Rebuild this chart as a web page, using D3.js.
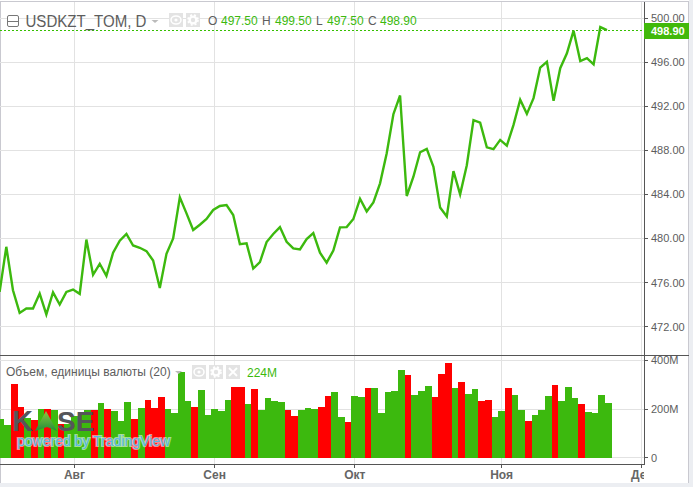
<!DOCTYPE html>
<html>
<head>
<meta charset="utf-8">
<script src="https://cdn.jsdelivr.net/npm/d3@7"></script>
<style>
  html, body { margin: 0; padding: 0; background: #fff; }
  svg { display: block; font-family: "Liberation Sans", Arial, sans-serif; }
</style>
</head>
<body>
<div id="chart"></div>
<script>
/* DATA */
const closes = [
  475.15, 479.24, 475.3, 473.24, 473.64, 473.64, 475.0, 473.1, 475.1, 474.0,
  475.15, 475.36, 474.97, 479.9, 476.7, 477.7, 476.6, 478.7, 479.8, 480.4,
  479.36, 479.15, 478.85, 478.0, 475.5, 478.6, 480.0, 483.73, 482.27, 480.76,
  481.24, 481.76, 482.58, 482.94, 483.03, 482.12, 479.48, 479.55, 477.27, 477.85,
  479.67, 480.4, 481.03, 479.7, 479.09, 479.0, 479.94, 480.48, 478.7, 477.8,
  478.9, 481.0, 481.03, 481.76, 483.6, 482.45, 483.27, 485.0, 487.73, 491.27,
  492.97, 483.85, 485.6, 487.82, 488.12, 486.5, 482.8, 482.0, 486.1, 484.0,
  486.64, 490.73, 490.5, 488.27, 488.1, 488.94, 488.42, 490.3, 492.58, 491.3,
  492.73, 495.5, 496.03, 492.48, 495.45, 496.8, 498.85, 496.1, 496.36, 495.8,
  499.18, 498.9
];
// volume in millions
const volumes = [
  160, 136, 304, 210, 163, 156, 201, 201, 197, 140,
  140, 170, 184, 197, 197, 226, 201, 193, 152, 230,
  160, 205, 238, 205, 251, 201, 185, 353, 234, 210,
  279, 177, 201, 193, 238, 292, 292, 222, 284, 197,
  247, 234, 230, 197, 173, 197, 205, 201, 210, 255,
  271, 168, 148, 255, 251, 288, 288, 185, 271, 275,
  362, 341, 259, 275, 296, 251, 345, 390, 288, 312,
  263, 284, 234, 238, 168, 193, 288, 259, 197, 152,
  177, 197, 255, 300, 234, 292, 247, 222, 189, 185,
  259, 226
];
const downBars = [2, 3, 5, 7, 9, 14, 16, 20, 22, 23, 24, 29, 35, 36, 38, 43, 44, 48, 49, 52, 55, 61, 65, 66, 67, 69, 72, 73, 76, 79, 83, 87];
const monthLabels = ["Авг", "Сен", "Окт", "Ноя", "Дек"];
const monthIndex = [11, 32, 53, 75, 96];
const priceTicks = [472, 476, 480, 484, 488, 492, 496, 500];
const volumeTicks = [0, 200, 400];
const ohlc = [["O", "497.50"], ["H", "499.50"], ["L", "497.50"], ["C", "498.90"]];
const lastPrice = 498.9;

/* CONSTANTS */
const width = 693;
const height = 487;
const axisX = 644;
const frameRight = 689;
const paneSplit = 356;
const timeAxisY = 464;
const barOffset = 1.4; // bars and month grid sit a bit right of the line vertices
const green = "#3cb90e";
const red = "#ff0000";
const gridColor = "#e2e2e2";
const axisColor = "#555";
const textColor = "#5d5d5d";

const svg = d3.select("#chart").append("svg")
  .attr("width", width)
  .attr("height", height);

svg.append("defs").append("clipPath").attr("id", "plotClip")
  .append("rect").attr("x", 0).attr("y", 2).attr("width", axisX).attr("height", timeAxisY - 2);
svg.select("defs").append("clipPath").attr("id", "timeClip")
  .append("rect").attr("x", 0).attr("y", timeAxisY).attr("width", axisX).attr("height", 22);

/* SCALES */
const xScale = d3.scaleLinear().domain([0, 91]).range([-0.37, 606.96]);
const yPrice = d3.scaleLinear().domain([472, 500]).range([326.6, 18]);
const yVolume = d3.scaleLinear().domain([0, 400]).range([457.8, 360.4]);
const step = xScale(1) - xScale(0);
const crisp = v => Math.floor(v) + 0.5;

/* PAGE FRAME */
svg.append("rect").attr("x", frameRight).attr("y", 0).attr("width", width - frameRight).attr("height", height).attr("fill", "#eceef2");
svg.append("rect").attr("x", 0).attr("y", 483).attr("width", width).attr("height", 4).attr("fill", "#eceef2");
svg.append("rect").attr("x", 0).attr("y", 1).attr("width", frameRight).attr("height", 1).attr("fill", "#c9c9d0");
svg.append("rect").attr("x", 0).attr("y", 1).attr("width", 1).attr("height", 482).attr("fill", "#c9c9d0");
svg.append("rect").attr("x", frameRight - 1).attr("y", 1).attr("width", 1).attr("height", 482).attr("fill", "#c9c9d0");

/* GRID */
const grid = svg.append("g").attr("stroke", gridColor).attr("fill", "none");
grid.selectAll(".vgrid")
  .data(monthIndex)
  .join("line")
  .attr("x1", d => crisp(xScale(d) + barOffset))
  .attr("x2", d => crisp(xScale(d) + barOffset))
  .attr("y1", 2)
  .attr("y2", timeAxisY);
grid.selectAll(".pgrid")
  .data(priceTicks)
  .join("line")
  .attr("x1", 0)
  .attr("x2", axisX)
  .attr("y1", d => crisp(yPrice(d)))
  .attr("y2", d => crisp(yPrice(d)));
grid.selectAll(".vol-grid")
  .data(volumeTicks)
  .join("line")
  .attr("x1", 0)
  .attr("x2", axisX)
  .attr("y1", d => crisp(yVolume(d)))
  .attr("y2", d => crisp(yVolume(d)));

/* VOLUME BARS */
svg.append("g").attr("clip-path", "url(#plotClip)")
  .selectAll("rect")
  .data(volumes)
  .join("rect")
  .attr("x", (d, i) => xScale(i) + barOffset - step / 2)
  .attr("width", step)
  .attr("y", d => yVolume(d))
  .attr("height", d => yVolume(0) - yVolume(d))
  .attr("fill", (d, i) => downBars.includes(i) ? red : green)
  .attr("shape-rendering", "crispEdges");

/* WATERMARK */
const mark = svg.append("g");
const triGrad = svg.select("defs").append("linearGradient").attr("id", "kaseTri").attr("x1", 0).attr("y1", 0).attr("x2", 0).attr("y2", 1);
triGrad.append("stop").attr("offset", "0").attr("stop-color", "#8fc63f");
triGrad.append("stop").attr("offset", "1").attr("stop-color", "#1f8f3a");
mark.append("text").attr("x", 12).attr("y", 431).attr("font-size", 29).attr("font-weight", "bold").attr("fill", "#55565a").text("K");
mark.append("path").attr("d", "M46,411 L57,431 L47,427 L35,431 Z").attr("fill", "url(#kaseTri)");
mark.append("text").attr("x", 57).attr("y", 431).attr("font-size", 28).attr("font-weight", "bold").attr("fill", "#55565a").text("SE");
mark.append("text").attr("x", 17).attr("y", 446)
  .attr("font-size", 14)
  .attr("fill", "#58b7e6")
  .attr("stroke", "#fff")
  .attr("stroke-opacity", 0.55)
  .attr("stroke-width", 2)
  .attr("paint-order", "stroke")
  .text("powered by TradingView");

/* PRICE LINE */
const line = d3.line()
  .x((d, i) => xScale(i))
  .y(d => yPrice(d));

svg.append("line")
  .attr("x1", 0).attr("x2", axisX)
  .attr("y1", Math.round(yPrice(lastPrice)) + 0.5).attr("y2", Math.round(yPrice(lastPrice)) + 0.5)
  .attr("stroke", "#35c000")
  .attr("stroke-dasharray", "2,2");

svg.append("path")
  .datum(closes)
  .attr("clip-path", "url(#plotClip)")
  .attr("fill", "none")
  .attr("stroke", green)
  .attr("stroke-width", 2.4)
  .attr("stroke-linejoin", "miter")
  .attr("d", line);

/* AXIS LINES */
svg.append("line").attr("x1", 0).attr("x2", frameRight).attr("y1", paneSplit - 0.5).attr("y2", paneSplit - 0.5).attr("stroke", axisColor);
svg.append("line").attr("x1", 0).attr("x2", axisX).attr("y1", timeAxisY + 0.5).attr("y2", timeAxisY + 0.5).attr("stroke", axisColor);
svg.append("line").attr("x1", axisX + 0.5).attr("x2", axisX + 0.5).attr("y1", 2).attr("y2", timeAxisY + 1).attr("stroke", axisColor);

/* RIGHT AXES */
const priceAxis = svg.append("g").attr("font-size", 11).attr("fill", textColor);
priceAxis.selectAll("line")
  .data(priceTicks)
  .join("line")
  .attr("x1", axisX).attr("x2", axisX + 4)
  .attr("y1", d => crisp(yPrice(d))).attr("y2", d => crisp(yPrice(d)))
  .attr("stroke", axisColor);
priceAxis.selectAll("text")
  .data(priceTicks)
  .join("text")
  .attr("x", 651)
  .attr("y", d => yPrice(d) + 4)
  .text(d => d3.format(".2f")(d));

const volAxis = svg.append("g").attr("font-size", 11).attr("fill", textColor);
volAxis.selectAll("line")
  .data(volumeTicks)
  .join("line")
  .attr("x1", axisX).attr("x2", axisX + 4)
  .attr("y1", d => crisp(yVolume(d))).attr("y2", d => crisp(yVolume(d)))
  .attr("stroke", axisColor);
volAxis.selectAll("text")
  .data(volumeTicks)
  .join("text")
  .attr("x", 651)
  .attr("y", d => yVolume(d) + 4)
  .text(d => d === 0 ? "0" : d + "M");

// last price label
svg.append("rect").attr("x", axisX).attr("y", 23).attr("width", frameRight - axisX).attr("height", 16).attr("fill", "#41b90a");
svg.append("text").attr("x", 651).attr("y", 35)
  .attr("font-size", 11).attr("font-weight", "bold").attr("fill", "#fff")
  .text(d3.format(".2f")(lastPrice));

/* TIME AXIS */
const timeAxis = svg.append("g").attr("clip-path", "url(#timeClip)");
timeAxis.selectAll("line")
  .data(monthIndex)
  .join("line")
  .attr("x1", d => crisp(xScale(d) + barOffset)).attr("x2", d => crisp(xScale(d) + barOffset))
  .attr("y1", timeAxisY).attr("y2", timeAxisY + 4)
  .attr("stroke", axisColor);
timeAxis.selectAll("text")
  .data(monthIndex)
  .join("text")
  .attr("x", d => xScale(d) + barOffset)
  .attr("y", 479)
  .attr("text-anchor", "middle")
  .attr("font-size", 12)
  .attr("font-weight", "bold")
  .attr("fill", "#666")
  .text((d, i) => monthLabels[i]);

/* LEGENDS */
function iconBox(x, y, kind) {
  const g = svg.append("g").attr("transform", `translate(${x},${y})`);
  g.append("rect").attr("width", 14).attr("height", 14).attr("fill", "#e3e3e3");
  if (kind === "eye") {
    g.append("ellipse").attr("cx", 7).attr("cy", 7).attr("rx", 5).attr("ry", 4).attr("fill", "none").attr("stroke", "#fff").attr("stroke-width", 1.5);
    g.append("circle").attr("cx", 7).attr("cy", 7).attr("r", 1.6).attr("fill", "#fff");
  } else if (kind === "gear") {
    g.append("circle").attr("cx", 7).attr("cy", 7).attr("r", 3.4).attr("fill", "none").attr("stroke", "#fff").attr("stroke-width", 2.4);
    g.append("circle").attr("cx", 7).attr("cy", 7).attr("r", 5).attr("fill", "none").attr("stroke", "#fff").attr("stroke-width", 1.6).attr("stroke-dasharray", "2,2");
  } else {
    g.append("path").attr("d", "M3,3 L11,11 M11,3 L3,11").attr("stroke", "#fff").attr("stroke-width", 1.8);
  }
}
function caret(x, y) {
  svg.append("path").attr("d", `M${x},${y} h7 l-3.5,3 Z`).attr("fill", "#bbb");
}

// collapse box and title
svg.append("rect").attr("x", 7.5).attr("y", 15.5).attr("width", 11).attr("height", 11).attr("rx", 1.5).attr("fill", "#fff").attr("stroke", "#777");
svg.append("line").attr("x1", 8).attr("x2", 18).attr("y1", 21.5).attr("y2", 21.5).attr("stroke", "#777");
svg.append("text").attr("x", 25.5).attr("y", 27).attr("font-size", 16).attr("fill", textColor)
  .attr("textLength", 121).attr("lengthAdjust", "spacingAndGlyphs")
  .text("USDKZT_TOM, D");
caret(151.5, 20);
iconBox(169, 13, "eye");
iconBox(186, 13, "gear");

const ohlcLetterX = [208, 262, 316, 368];
const ohlcValueX = [221, 275, 327, 380];
ohlc.forEach((d, i) => {
  svg.append("text").attr("x", ohlcLetterX[i]).attr("y", 25).attr("font-size", 12).attr("fill", textColor).text(d[0]);
  svg.append("text").attr("x", ohlcValueX[i]).attr("y", 25).attr("font-size", 12).attr("fill", green).text(d[1]);
});

svg.append("text").attr("x", 6).attr("y", 376).attr("font-size", 12).attr("fill", textColor).text("Объем, единицы валюты (20)");
caret(175, 371);
iconBox(192, 365, "eye");
iconBox(209, 365, "gear");
iconBox(226, 365, "close");
svg.append("text").attr("x", 247).attr("y", 377).attr("font-size", 12).attr("fill", green).text("224M");
</script>
</body>
</html>
